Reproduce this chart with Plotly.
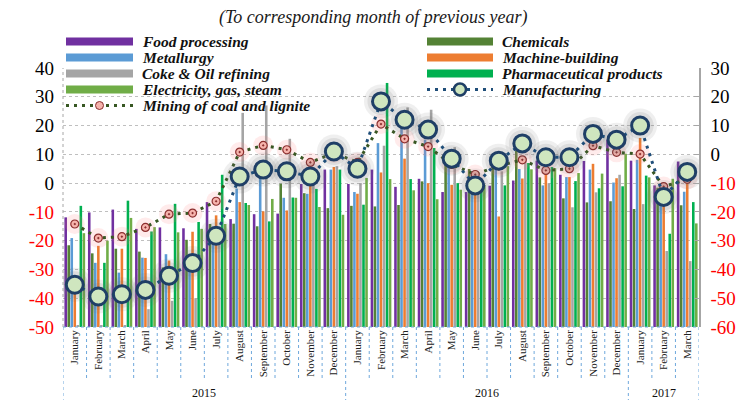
import plotly.graph_objects as go

# ---------------- data ----------------
months = ["January", "February", "March", "April", "May", "June", "July",
          "August", "September", "October", "November", "December"]
x_labels = months + months + months[:3]
years = ["2015", "2016", "2017"]
year_counts = [12, 12, 3]

# bar series (left axis, %)
food = [-11.9, -10.2, -9.2, -15.9, -15.4, -15.7, -6.6, -12.5, -10.8, -10.6, -0.3, 4.7,
        -0.3, 4.7, -1.3, 1.5, -3.1, -3.1, -0.9, 0.9, 7.8, 2.9, 7.7, 15.1, 7.8, -0.8, 7.5]
chemicals = [-21.6, -24.4, -22.8, -23.8, -29.3, -19.7, -14.2, -14.1, -15.0, -0.2, -3.5, -8.7,
             -7.9, -8.1, -7.6, 0.6, 7.5, 4.9, 5.8, 11.3, 2.0, -5.3, -6.7, -6.3, -9.0, -1.6, -7.7]
metallurgy = [-19.1, -27.7, -31.1, -25.9, -24.7, -26.0, -16.8, -1.9, 2.0, -5.1, -3.7, 4.7,
              -3.1, 13.9, 18.9, 15.1, 8.1, -1.7, 6.4, 4.9, -0.8, 2.1, 4.7, 0.2, 8.1, -2.0, -3.0]
machine = [-32.7, -21.8, -22.8, -26.0, -26.9, -16.9, -11.2, -6.6, -9.8, -9.5, 1.2, 5.6,
           -3.7, 3.7, 8.5, 0.0, -0.6, -1.7, -11.6, 1.6, 4.1, 2.1, 6.7, 1.7, 15.7, -3.3, 1.3]
coke = [-49.5, -49.5, -49.5, -43.8, -40.9, -40.0, -19.0, 24.4, 27.0, 15.4, 0.0, 5.9,
        0.0, 13.0, 26.3, 25.5, 12.5, -2.9, 4.1, 8.7, 0.0, -8.4, -3.2, 2.9, -7.3, -23.6, -27.1]
pharma = [-7.9, -27.7, -6.1, -16.8, -7.2, -13.5, 2.9, -6.9, -13.3, -5.0, -2.0, 4.7,
          -7.5, 34.8, 1.4, 12.2, 0.0, -2.3, -0.8, 7.0, 5.6, 0.7, -1.8, -1.1, 2.6, -17.6, -6.6]
electricity = [-17.4, -20.0, -12.1, -15.3, -17.1, -15.9, -14.2, -7.6, -5.5, -5.1, -8.3, -11.0,
               1.8, 1.4, -2.5, -5.6, -2.3, -0.6, 5.9, 4.8, 5.2, 3.5, 3.3, 10.2, 2.0, 1.5, -14.0]

# line series (right axis, %)
manufacturing = [-45.3, -49.4, -48.6, -47.1, -42.2, -37.8, -28.3, -7.7, -5.3, -5.9, -7.7, 1.0,
                 -5.0, 18.4, 12.0, 8.6, -1.5, -10.8, -2.2, 3.8, -1.0, -1.0, 7.1, 5.1, 10.0, -14.8, -6.1]
mining = [-24.2, -29.1, -28.6, -25.4, -20.8, -20.4, -16.3, 0.8, 3.1, 1.6, -2.8, 0.5,
          -2.8, 10.5, 5.4, 2.7, -3.5, -7.0, -4.0, -1.9, -5.6, -5.0, 3.0, 0.7, 0.1, -11.2, -8.7]

left_ticks = [40, 30, 20, 10, 0, -10, -20, -30, -40, -50]
right_ticks = [30, 20, 10, 0, -10, -20, -30, -40, -50, -60]

bar_series = [
    ("Food processing", food, "#7030A0"),
    ("Chemicals", chemicals, "#548235"),
    ("Metallurgy", metallurgy, "#5B9BD5"),
    ("Machine-building", machine, "#ED7D31"),
    ("Coke & Oil refining", coke, "#A5A5A5"),
    ("Pharmaceutical products", pharma, "#00B050"),
    ("Electricity, gas, steam", electricity, "#70AD47"),
]

# ---------------- layout geometry ----------------
W, H = 747, 400
ML, MR, MT, MB = 63, 48, 68, 73
PW, PH = W - ML - MR, H - MT - MB
SERIF = "Liberation Serif, Times New Roman, serif"


def px(xp):
    return (xp - ML) / PW


def py(yp):
    return (H - MB - yp) / PH


BASE = left_ticks[-1]
xs = list(range(len(x_labels)))

fig = go.Figure()

for name, vals, col in bar_series:
    fig.add_trace(go.Bar(
        x=xs, y=[v - BASE for v in vals], base=BASE, name=name,
        marker=dict(color=col, line=dict(width=0)), showlegend=False,
        yaxis="y"))

# glows
fig.add_trace(go.Scatter(x=xs, y=mining, mode="markers", yaxis="y2", showlegend=False,
                         marker=dict(size=20, color="rgba(255,120,120,0.15)"), hoverinfo="skip"))
fig.add_trace(go.Scatter(x=xs, y=mining, mode="lines+markers", name="Mining of coal and lignite",
                         yaxis="y2", showlegend=False,
                         line=dict(color="#385723", width=3, dash="3px,5px"),
                         marker=dict(symbol="circle-dot", size=8, color="#F6B3AC",
                                     line=dict(color="#8B2E2E", width=1.2))))
fig.add_trace(go.Scatter(x=xs, y=manufacturing, mode="markers", yaxis="y2", showlegend=False,
                         marker=dict(size=34, color="rgba(110,110,110,0.11)"), hoverinfo="skip"))
fig.add_trace(go.Scatter(x=xs, y=manufacturing, mode="markers", yaxis="y2", showlegend=False,
                         marker=dict(size=27, color="rgba(110,110,110,0.14)"), hoverinfo="skip"))
fig.add_trace(go.Scatter(x=xs, y=manufacturing, mode="lines+markers", name="Manufacturing",
                         yaxis="y2", showlegend=False,
                         line=dict(color="#1F4E79", width=3, dash="3px,5px"),
                         marker=dict(symbol="circle", size=17, color="#CFE6BF",
                                     line=dict(color="#1F3F66", width=3))))


def colored(v):
    s = str(v)
    return f"<span style='color:#FF0000'>{s}</span>" if v < 0 else s


shapes = []
annotations = []

# title
annotations.append(dict(x=px(373), y=py(18), xref="paper", yref="paper",
                        text="<i>(To corresponding month of previous year)</i>",
                        showarrow=False, xanchor="center", yanchor="middle",
                        font=dict(family=SERIF, size=18, color="#1a1a1a")))

# custom legend
rows = [41.5, 57.5, 73.5, 89.5, 105.5]
left_col = [("Food processing", "#7030A0"), ("Metallurgy", "#5B9BD5"),
            ("Coke & Oil refining", "#A5A5A5"), ("Electricity, gas, steam", "#70AD47"),
            ("Mining of coal and lignite", None)]
right_col = [("Chemicals", "#548235"), ("Machine-building", "#ED7D31"),
             ("Pharmaceutical products", "#00B050"), ("Manufacturing", None)]


def legend_col(entries, x0, x1, xt):
    for (label, col), yr in zip(entries, rows):
        if col is not None:
            shapes.append(dict(type="rect", xref="paper", yref="paper",
                               x0=px(x0), x1=px(x1), y0=py(yr + 4), y1=py(yr - 4),
                               fillcolor=col, line=dict(width=0), layer="above"))
        elif label == "Manufacturing":
            shapes.append(dict(type="line", xref="paper", yref="paper",
                               x0=px(x0), x1=px(x1), y0=py(yr), y1=py(yr),
                               line=dict(color="#1F4E79", width=3, dash="3px,5px"), layer="above"))
            xc = (x0 + x1) / 2
            shapes.append(dict(type="circle", xref="paper", yref="paper",
                               x0=px(xc - 6), x1=px(xc + 6), y0=py(yr + 6), y1=py(yr - 6),
                               fillcolor="#CFE6BF", line=dict(color="#1F3F66", width=2.5),
                               layer="above"))
        else:
            shapes.append(dict(type="line", xref="paper", yref="paper",
                               x0=px(x0), x1=px(x1), y0=py(yr), y1=py(yr),
                               line=dict(color="#385723", width=3, dash="3px,5px"), layer="above"))
            xc = (x0 + x1) / 2
            shapes.append(dict(type="circle", xref="paper", yref="paper",
                               x0=px(xc - 4), x1=px(xc + 4), y0=py(yr + 4), y1=py(yr - 4),
                               fillcolor="#F6B3AC", line=dict(color="#8B2E2E", width=1),
                               layer="above"))
        annotations.append(dict(x=px(xt), y=py(yr), xref="paper", yref="paper",
                                text=f"<b><i>{label}</i></b>", showarrow=False,
                                xanchor="left", yanchor="middle",
                                font=dict(family=SERIF, size=15.5, color="#111111")))


legend_col(left_col, 66, 133, 140)
legend_col(right_col, 427, 493, 500)

# x-axis separators
blue_sep = "#6FA8DC"
shapes.append(dict(type="line", xref="paper", yref="paper", x0=0, x1=1, y0=0, y1=0,
                   line=dict(color=blue_sep, width=1, dash="dot")))
year_bounds = [-0.5]
for c in year_counts:
    year_bounds.append(year_bounds[-1] + c)
for i in range(1, len(x_labels)):
    b = i - 0.5
    if b in year_bounds:
        continue
    shapes.append(dict(type="line", xref="x", yref="paper", x0=b, x1=b, y0=0, y1=py(381),
                       line=dict(color=blue_sep, width=1, dash="dot")))
for b in year_bounds:
    shapes.append(dict(type="line", xref="x", yref="paper", x0=b, x1=b, y0=0, y1=py(400),
                       line=dict(color=blue_sep, width=1, dash="dot")))
for yr, a, bnd in zip(years, year_bounds[:-1], year_bounds[1:]):
    annotations.append(dict(x=(a + bnd) / 2, y=py(393), xref="x", yref="paper", text=yr,
                            showarrow=False, xanchor="center", yanchor="middle",
                            font=dict(family=SERIF, size=12, color="#111111")))

# left dotted border
shapes.append(dict(type="line", xref="paper", yref="paper", x0=0, x1=0, y0=0, y1=1,
                   line=dict(color="#A6A6A6", width=1, dash="dot")))

fig.update_layout(
    width=W, height=H,
    margin=dict(l=ML, r=MR, t=MT, b=MB, pad=0),
    paper_bgcolor="white", plot_bgcolor="white",
    barmode="group", bargap=0.1, bargroupgap=0.15,
    showlegend=False,
    xaxis=dict(range=[-0.5, len(x_labels) - 0.5], tickvals=xs, ticktext=x_labels,
               tickangle=-90, showgrid=False, zeroline=False, showline=False, ticks="",
               tickfont=dict(family=SERIF, size=11, color="#222222")),
    yaxis=dict(range=[left_ticks[-1], left_ticks[0]], tickvals=left_ticks,
               ticktext=[colored(v) for v in left_ticks],
               showgrid=True, gridcolor="#BFBFBF", griddash="dot", gridwidth=1,
               zeroline=False, showline=False, ticks="", ticklabelstandoff=8,
               tickfont=dict(family=SERIF, size=19, color="#000000")),
    yaxis2=dict(range=[right_ticks[-1], right_ticks[0]], tickvals=right_ticks,
                ticktext=[colored(v) for v in right_ticks],
                overlaying="y", side="right", showgrid=False, zeroline=False,
                showline=True, linecolor="#A6A6A6", linewidth=1.5,
                ticks="inside", ticklen=5, tickcolor="#A6A6A6", ticklabelstandoff=6,
                tickfont=dict(family=SERIF, size=19, color="#000000")),
    shapes=shapes,
    annotations=annotations,
)

fig.write_html("out.html", config={"displayModeBar": False},
               post_script="document.body.style.margin='0';document.body.style.overflow='hidden';")
